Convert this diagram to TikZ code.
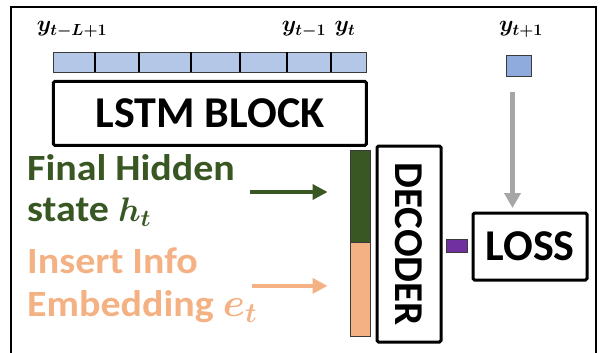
\RequirePackage{fix-cm}
\documentclass[tikz,border=0pt]{standalone}
\usepackage{amsmath}
\usepackage{bm}
\usepackage{fontspec}
\setsansfont{Carlito}
\newfontfamily\widesans[FakeStretch=1.08]{Carlito}
\usetikzlibrary{arrows.meta,positioning,calc}
\definecolor{HidMain}{HTML}{385723}
\definecolor{EmbMain}{HTML}{F4B183}
\definecolor{SeqFill}{HTML}{B4C7E7}
\definecolor{TgtFill}{HTML}{8FAADC}
\definecolor{OutFill}{HTML}{7030A0}
\definecolor{LossArr}{HTML}{A6A6A6}
\definecolor{CellBord}{HTML}{3A3A3A}
\tikzset{
  every picture/.append style={font=\sffamily\bfseries},
  blk/.style={rectangle, draw=black, fill=white, line width=3pt, rounded corners=1.5pt,
              inner sep=0pt, font=\sffamily\bfseries\fontsize{44}{48}\selectfont},
  cell/.style={rectangle, draw=CellBord, line width=0.9pt, inner sep=0pt},
  lbl/.style={font=\fontsize{23}{26}\selectfont, inner sep=0pt, anchor=base},
  txt/.style={font=\widesans\bfseries\fontsize{37}{40}\selectfont, inner sep=0pt, anchor=base west},
  feed/.style={-{Triangle[length=15pt,width=15pt]}, line width=3.5pt, draw=#1},
}

\begin{document}
\begin{tikzpicture}[x=1pt,y=-1pt]
\useasboundingbox (0,0) rectangle (600,353);

% ---------------- outer frame, open at the bottom ----------------
\draw[line width=2pt] (11,353) -- (11,7) -- (596,7) -- (596,353);

% ---------------- input window and LSTM ----------------
\node[cell, fill=SeqFill, minimum width=313pt, minimum height=20pt, anchor=north west] (seq) at (53,52) {};
\foreach \d in {42,86,138,187,234,278}
  \draw[line width=2.5pt] (seq.north west) ++(\d,0) -- ++(0,20);
\node[lbl] (yfirst) at (72,32) {$\bm{y_{t-L+1}}$};
\node[lbl] (yprev) at (304,32) {$\bm{y_{t-1}}$};
\node[lbl] (ycur) at (345,32) {$\bm{y_t}$};
\node[blk, minimum width=313pt, minimum height=64pt, below=7pt of seq] (lstm) {LSTM BLOCK};

% ---------------- decoder input: hidden state + insert embedding ----------------
\node[cell, fill=HidMain, minimum width=20pt, minimum height=92pt] (hbar) at (360,196) {};
\node[cell, fill=EmbMain, minimum width=20pt, minimum height=94pt, below=0pt of hbar] (ebar) {};
\node[txt, text=HidMain] (hid1) at (27,180) {Final Hidden};
\node[txt, text=HidMain] (hid2) at (27,221) {state {\fontsize{34}{36}\selectfont$\bm{h_t}$}};
\node[txt, text=EmbMain] (ins1) at (27,273) {Insert Info};
\node[txt, text=EmbMain] (ins2) at (27,316) {Embedding {\fontsize{40}{42}\selectfont$\bm{e_t}$}};
\draw[feed=HidMain] ([shift={(-100pt,4pt)}]hbar.west) -- ([shift={(-22pt,4pt)}]hbar.west);
\draw[feed=EmbMain] ([shift={(-98pt,4pt)}]ebar.west) -- ([shift={(-22pt,4pt)}]ebar.west);

% ---------------- decoder, output and loss ----------------
\node[blk, minimum width=64pt, minimum height=196pt] (dec) at (409,244) {};
\node[rotate=-90, font=\sffamily\bfseries\fontsize{41}{44}\selectfont] (declbl) at (dec.center) {DECODER};
\node[cell, fill=OutFill, minimum width=21pt, minimum height=13pt] (out) at (456.5,246) {};
\node[blk, minimum width=114pt, minimum height=67pt] (loss) at (530,246.5) {LOSS};
\node[cell, fill=TgtFill, minimum width=25pt, minimum height=21pt] (ynext) at (518.5,65.5) {};
\node[lbl] (ynextlbl) at (521,32) {$\bm{y_{t+1}}$};
\draw[-{Triangle[length=15pt,width=16pt]}, line width=5pt, draw=LossArr, shorten >=3.5pt]
  ([shift={(-6pt,-16pt)}]ynext.south) -- ([xshift=-6pt]ynext.south |- loss.north);

\end{tikzpicture}
\end{document}
